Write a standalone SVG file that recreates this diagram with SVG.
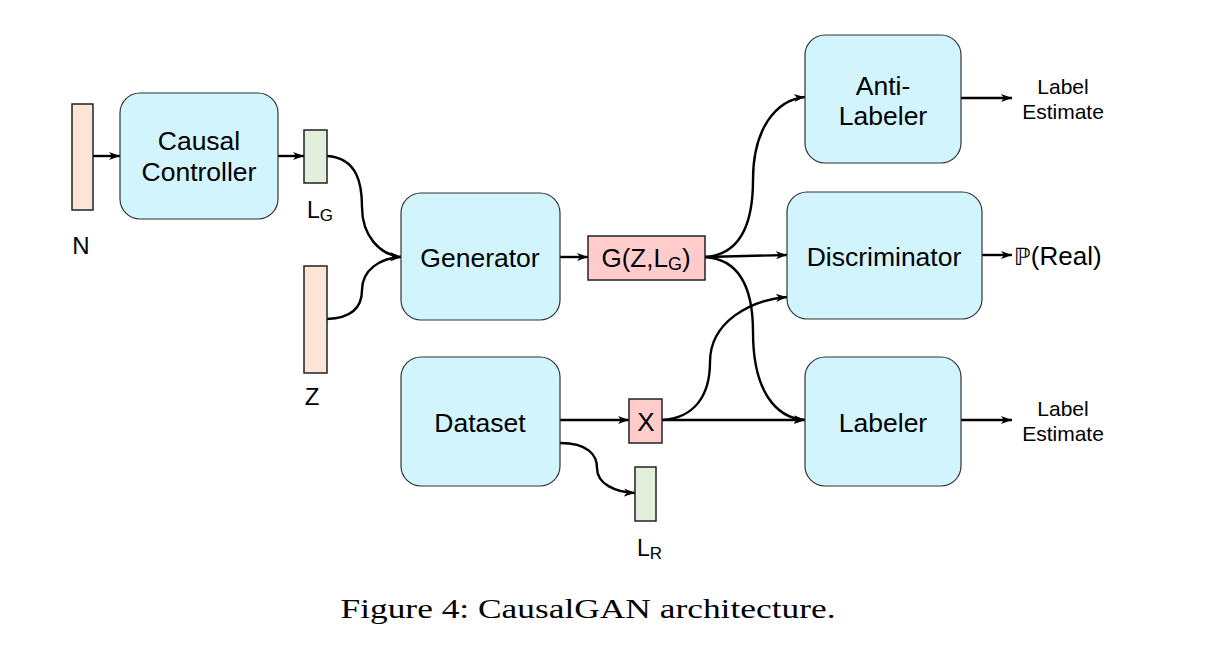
<svg xmlns="http://www.w3.org/2000/svg" width="1215" height="649" viewBox="0 0 1215 649">
<defs>
<marker id="arr" markerUnits="userSpaceOnUse" markerWidth="12" markerHeight="10" viewBox="0 0 12 10" refX="11" refY="5" orient="auto">
<path d="M0,1 L11,5 L0,9 L3,5 Z" fill="#000"/>
</marker>
</defs>
<style>
.box{fill:#d2f4fc;stroke:#333;stroke-width:1.2}
.peach{fill:#fbe5d6;stroke:#222;stroke-width:1.5}
.green{fill:#e2efda;stroke:#222;stroke-width:1.5}
.pink{fill:#ffcccc;stroke:#222;stroke-width:1.5}
.t{font-family:"Liberation Sans",Arial,sans-serif;font-size:26.5px;fill:#000;text-anchor:middle}
.t2{font-family:"Liberation Sans",Arial,sans-serif;font-size:26px;fill:#000;text-anchor:middle}
.big{font-family:"Liberation Sans",Arial,sans-serif;font-size:24px;fill:#000;text-anchor:middle}
.lbl{font-family:"Liberation Sans",Arial,sans-serif;font-size:23px;fill:#000}
.sub{font-size:17px}
.sub2{font-size:18px}
.sm{font-family:"Liberation Sans",Arial,sans-serif;font-size:21px;fill:#000;text-anchor:middle}
.pr{font-family:"Liberation Sans",Arial,sans-serif;font-size:26px;fill:#000}
.c{fill:none;stroke:#000;stroke-width:2.4;marker-end:url(#arr)}
.cap{font-family:"Liberation Serif","Times New Roman",serif;font-size:27px;fill:#000;text-anchor:middle}
</style>
<rect width="1215" height="649" fill="#fff"/>

<g id="connectors">
<path class="c" d="M93,156 L120,156"/>
<path class="c" d="M278,156 L304,156"/>
<path class="c" d="M327,156 C358,158 362,185 362,207 C362,236 380,255 401,257"/>
<path class="c" d="M327,319 C355,318 362,305 362,290 C362,270 380,258 401,257"/>
<path class="c" d="M560,257 L588,257"/>
<path class="c" d="M705,257 C736,255 753,230 753,180 C753,130 775,100 805,97"/>
<path class="c" d="M705,257 L787,255"/>
<path class="c" d="M705,257 C736,259 753,282 753,332 C753,390 775,418 805,420"/>
<path class="c" d="M560,420 L629,420"/>
<path class="c" d="M560,443 C588,443 597,455 597,468 C597,484 615,492 635,493"/>
<path class="c" d="M662,420 C695,418 710,395 710,362 C710,322 750,300 787,297"/>
<path class="c" d="M662,420 L805,420"/>
<path class="c" d="M961,98 L1012,98"/>
<path class="c" d="M982,255 L1012,255"/>
<path class="c" d="M961,420 L1012,420"/>
</g>

<g id="N">
<rect class="peach" x="72" y="104" width="21" height="106"/>
<text class="big" x="81" y="254">N</text>
</g>
<g id="causal-controller">
<rect class="box" x="120" y="93" width="158" height="126" rx="20"/>
<text class="t" x="199" y="150">Causal</text>
<text class="t" x="199" y="181">Controller</text>
</g>
<g id="LG">
<rect class="green" x="304" y="130" width="23" height="53"/>
<text class="lbl" x="307" y="218">L<tspan class="sub" dy="3">G</tspan></text>
</g>
<g id="Z">
<rect class="peach" x="304" y="266" width="23" height="107"/>
<text class="big" x="312" y="405">Z</text>
</g>
<g id="generator">
<rect class="box" x="401" y="193" width="159" height="127" rx="20"/>
<text class="t" x="480" y="267">Generator</text>
</g>
<g id="GZLG">
<rect class="pink" x="588" y="236" width="117" height="44"/>
<text class="t2" x="646" y="267">G(Z,L<tspan class="sub2" dy="3">G</tspan><tspan dy="-3">)</tspan></text>
</g>
<g id="dataset">
<rect class="box" x="401" y="357" width="159" height="129" rx="20"/>
<text class="t" x="480" y="432">Dataset</text>
</g>
<g id="X">
<rect class="pink" x="629" y="399" width="33" height="44"/>
<text class="t2" x="646" y="431">X</text>
</g>
<g id="LR">
<rect class="green" x="635" y="467" width="21" height="54"/>
<text class="lbl" x="637" y="556">L<tspan class="sub" dy="3">R</tspan></text>
</g>
<g id="anti-labeler">
<rect class="box" x="805" y="35" width="156" height="128" rx="20"/>
<text class="t" x="883" y="95">Anti-</text>
<text class="t" x="883" y="125">Labeler</text>
</g>
<g id="discriminator">
<rect class="box" x="787" y="192" width="195" height="127" rx="20"/>
<text class="t" x="884" y="266">Discriminator</text>
</g>
<g id="labeler">
<rect class="box" x="805" y="357" width="156" height="129" rx="20"/>
<text class="t" x="883" y="432">Labeler</text>
</g>
<g id="label-estimate-1">
<text class="sm" x="1063" y="94">Label</text>
<text class="sm" x="1063" y="119">Estimate</text>
</g>
<g id="p-real">
<text class="pr" x="1014" y="265"><tspan style="font-family:'DejaVu Sans',sans-serif;font-size:24px">ℙ</tspan>(Real)</text>
</g>
<g id="label-estimate-2">
<text class="sm" x="1063" y="416">Label</text>
<text class="sm" x="1063" y="441">Estimate</text>
</g>
<text class="cap" x="588" y="618" textLength="495" lengthAdjust="spacingAndGlyphs">Figure 4: CausalGAN architecture.</text>
</svg>
